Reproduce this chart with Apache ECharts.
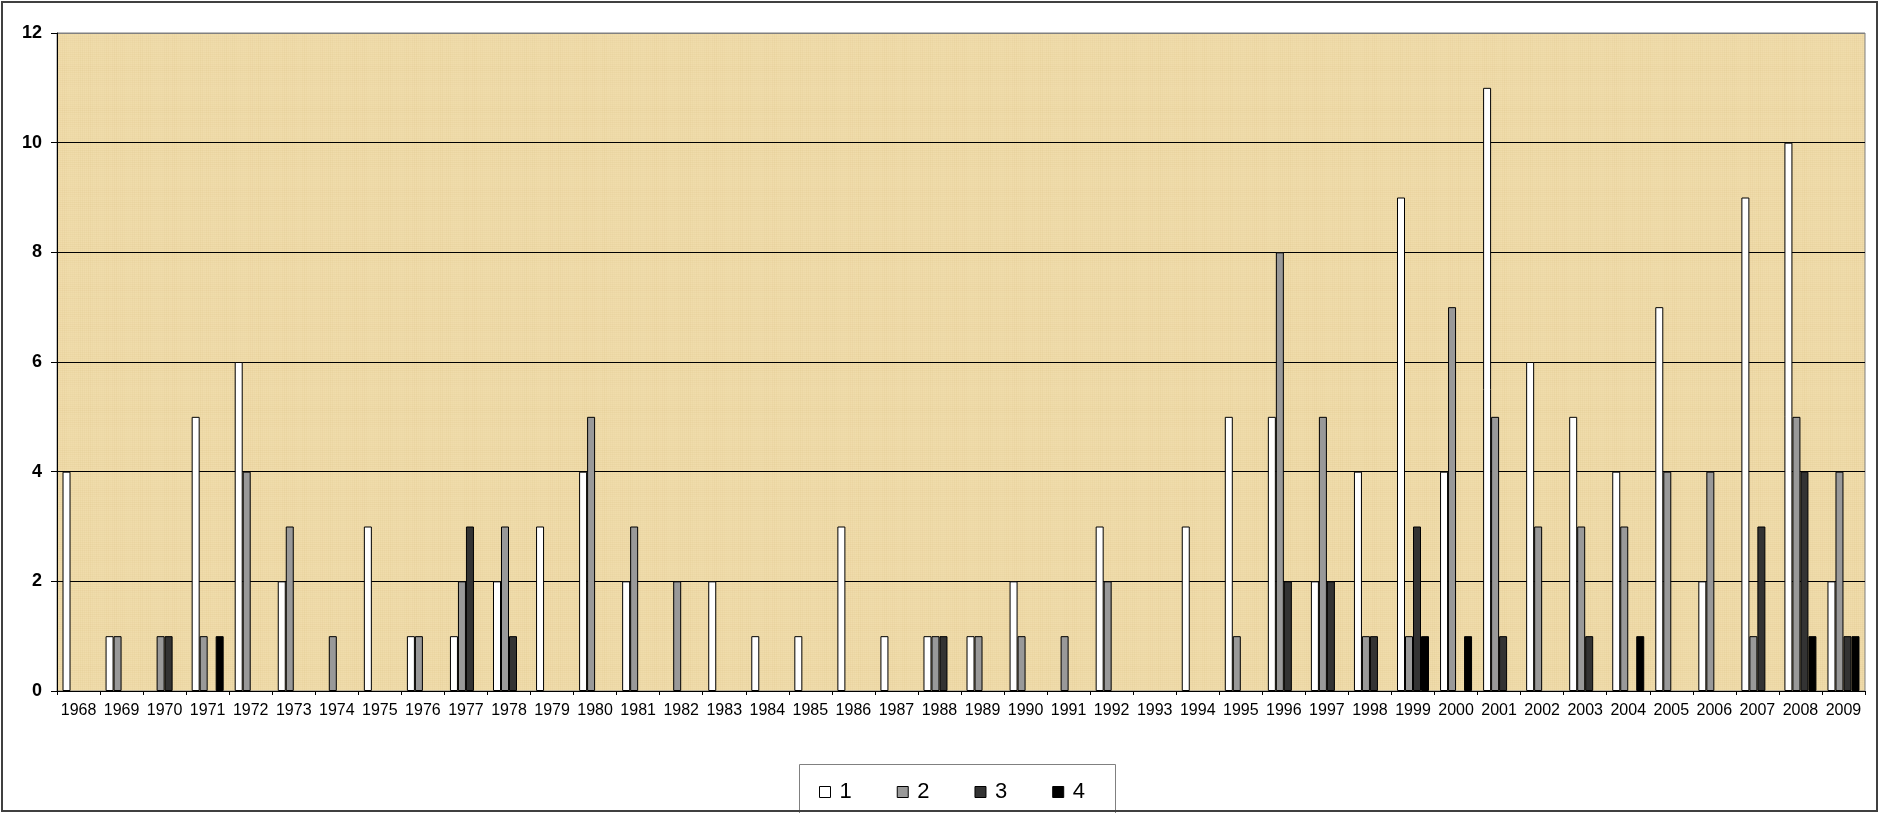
<!DOCTYPE html>
<html>
<head>
<meta charset="utf-8">
<style>
  html, body { margin: 0; padding: 0; background: #fff; }
  #chart { width: 1879px; height: 813px; }
</style>
<script src="https://cdn.jsdelivr.net/npm/echarts@6/dist/echarts.min.js"></script>
</head>
<body>
<div id="chart"></div>
<script>
// Yearly counts per class (1-4), 1968-2009
const years = [
  '1968','1969','1970','1971','1972','1973','1974','1975','1976','1977',
  '1978','1979','1980','1981','1982','1983','1984','1985','1986','1987',
  '1988','1989','1990','1991','1992','1993','1994','1995','1996','1997',
  '1998','1999','2000','2001','2002','2003','2004','2005','2006','2007',
  '2008','2009'
];
const class1 = [4,1,0,5,6,2,0,3,1,1, 2,3,4,2,0,2,1,1,3,1, 1,1,2,0,3,0,3,5,5,2, 4,9,4,11,6,5,4,7,2,9, 10,2];
const class2 = [0,1,1,1,4,3,1,0,1,2, 3,0,5,3,2,0,0,0,0,0, 1,1,1,1,2,0,0,1,8,5, 1,1,7,5,3,3,3,4,4,1, 5,4];
const class3 = [0,0,1,0,0,0,0,0,0,3, 1,0,0,0,0,0,0,0,0,0, 1,0,0,0,0,0,0,0,2,2, 1,3,0,1,0,1,0,0,0,3, 4,1];
const class4 = [0,0,0,1,0,0,0,0,0,0, 0,0,0,0,0,0,0,0,0,0, 0,0,0,0,0,0,0,0,0,0, 0,1,1,0,0,0,1,0,0,0, 1,1];
const yTicks = [0, 2, 4, 6, 8, 10, 12];

const seriesNames = ['1', '2', '3', '4'];
const seriesValues = [class1, class2, class3, class4];
const seriesColors = ['#ffffff', '#999999', '#333333', '#000000'];

// Papyrus-like fill for the plot area: fine crossing fibres on a tan base
function papyrus() {
  const c = document.createElement('canvas');
  c.width = 300; c.height = 300;
  const g = c.getContext('2d');
  g.fillStyle = '#f0dcab';
  g.fillRect(0, 0, 300, 300);
  for (let i = 0; i < 300; i += 2) {
    const a = 0.03 + 0.07 * Math.abs(Math.sin(i * 0.37) * Math.cos(i * 0.11));
    g.fillStyle = 'rgba(200,170,100,' + a.toFixed(3) + ')';
    g.fillRect(i, 0, 1, 300);
    const b = 0.03 + 0.06 * Math.abs(Math.cos(i * 0.23) * Math.sin(i * 0.07));
    g.fillStyle = 'rgba(195,165,95,' + b.toFixed(3) + ')';
    g.fillRect(0, i, 300, 1);
  }
  return c;
}

const chart = echarts.init(document.getElementById('chart'), null, { renderer: 'canvas' });
const font = '"Liberation Sans", Arial, sans-serif';

chart.setOption({
  animation: false,
  backgroundColor: '#ffffff',
  textStyle: { fontFamily: font },
  grid: {
    left: 57, right: 14, top: 33, bottom: 122,
    show: true,
    backgroundColor: { image: papyrus(), repeat: 'repeat' },
    borderColor: '#808080',
    borderWidth: 1
  },
  legend: {
    left: 819,
    top: 781,
    padding: 0,
    icon: 'rect',
    itemWidth: 11,
    itemHeight: 11,
    itemGap: 45,
    itemStyle: { borderColor: '#000', borderWidth: 1 },
    textStyle: { fontSize: 22, color: '#000', fontFamily: font, padding: [0, 0, 0, 4] },
    data: seriesNames
  },
  xAxis: {
    type: 'category',
    data: years,
    axisLine: { lineStyle: { color: '#000', width: 1 } },
    axisTick: { show: true, length: 4, lineStyle: { color: '#000' } },
    axisLabel: { interval: 0, fontSize: 16, color: '#000', margin: 12, fontFamily: font },
    splitLine: { show: false }
  },
  yAxis: {
    type: 'value',
    min: yTicks[0],
    max: yTicks[yTicks.length - 1],
    interval: 2,
    axisLine: { show: true, lineStyle: { color: '#000', width: 1 } },
    axisTick: { show: true, length: 6, lineStyle: { color: '#000' } },
    axisLabel: { fontSize: 18, fontWeight: 'bold', color: '#000', margin: 15, fontFamily: font },
    splitLine: {
      show: true,
      lineStyle: { color: ['#000', '#000', '#000', '#000', '#000', '#000', '#808080'], width: 1 }
    }
  },
  series: seriesNames.map((name, i) => ({
    name: name,
    type: 'bar',
    // a zero count leaves its slot empty
    data: seriesValues[i].map(v => (v === 0 ? '-' : v)),
    barGap: '0%',
    barWidth: 8,
    itemStyle: { color: seriesColors[i], borderColor: '#000', borderWidth: 1 }
  })),
  graphic: [
    {
      type: 'rect',
      shape: { x: 799.5, y: 764.5, width: 316, height: 50 },
      style: { fill: 'none', stroke: '#808080', lineWidth: 1 },
      z: 10
    },
    {
      type: 'rect',
      shape: { x: 2, y: 2, width: 1875, height: 809 },
      style: { fill: 'none', stroke: '#404040', lineWidth: 2 },
      z: 20
    }
  ]
});
</script>
</body>
</html>
